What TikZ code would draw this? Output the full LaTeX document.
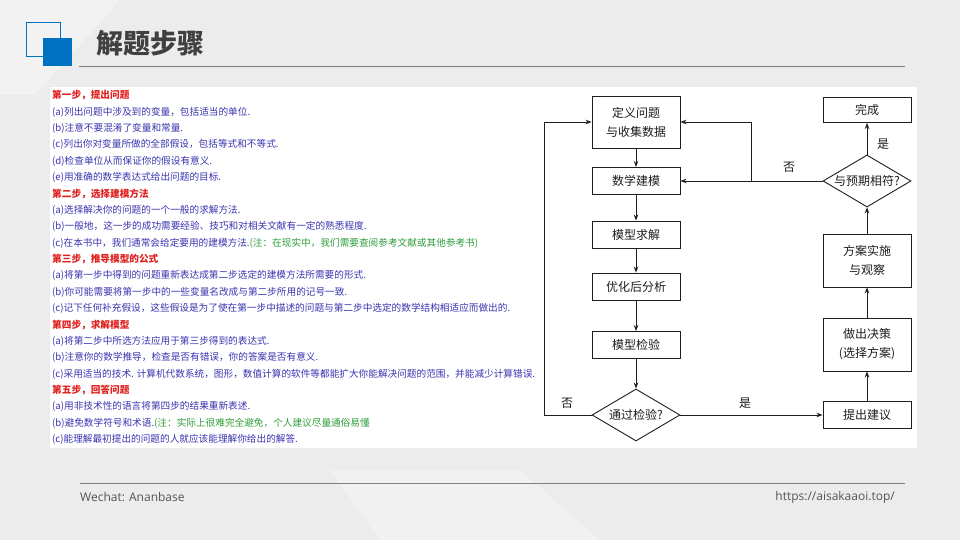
\documentclass[tikz,border=0pt]{standalone}
\usepackage{fontspec}
\setmainfont{Noto Sans CJK SC}
\newfontfamily\footfont{Open Sans}
\usetikzlibrary{arrows.meta,shapes.geometric}

\definecolor{bg}{HTML}{ECECEC}
\definecolor{accent}{HTML}{0070C0}
\definecolor{titlegray}{HTML}{404040}
\definecolor{footgray}{HTML}{555555}
\definecolor{rulegray}{HTML}{808080}
\definecolor{stepred}{HTML}{E0201E}
\definecolor{itemblue}{HTML}{3A34B0}
\definecolor{notegreen}{HTML}{2E9E3A}
\definecolor{ink}{HTML}{1E1E1E}

\tikzset{
  link/.style={draw=ink, line width=0.9pt},
  arr/.style={link, -{Stealth[length=6pt,width=4.5pt]}},
  box/.style={draw=ink, line width=0.9pt, fill=white, minimum width=88pt,
    minimum height=27pt, inner sep=0pt, align=center, text=ink,
    font=\fontsize{12}{19}\selectfont},
  tallbox/.style={box, minimum height=53pt},
  decision/.style={diamond, draw=ink, line width=0.9pt, fill=white,
    aspect=1.69, minimum width=88pt, minimum height=52pt, inner sep=0pt,
    text=ink, font=\fontsize{12}{14}\selectfont},
  flowlabel/.style={text=ink, font=\fontsize{12}{14}\selectfont, inner sep=0pt},
  stephead/.style={anchor=west, inner sep=0pt, text=stepred,
    font=\fontsize{9.65}{12}\selectfont\bfseries},
  stepitem/.style={anchor=west, inner sep=0pt, text=itemblue,
    font=\fontsize{9.65}{12}\selectfont},
}

\begin{document}
\begin{tikzpicture}[x=1pt, y=-1pt]
  \useasboundingbox (0,0) rectangle (960,540);

  % slide background with faint light facets
  \fill[bg] (0,0) rectangle (960,540);
  \fill[white, opacity=0.35] (0,0) -- (120,0) -- (35,95) -- (0,95) -- cycle;
  \fill[white, opacity=0.3] (330,470) -- (520,470) -- (600,540) -- (380,540) -- cycle;

  % header: accent squares, title and rule
  \draw[accent, line width=1.3pt] (26.5,22.5) rectangle (60.5,56.5);
  \fill[accent] (43,38) rectangle (72,66);
  \node[anchor=west, inner sep=0pt, text=titlegray,
        font=\fontsize{27}{30}\selectfont\bfseries] (title) at (96,43) {解题步骤};
  \draw[rulegray, line width=1pt] (79,66.3) -- (905,66.3);

  % content panel
  \fill[white] (50,87) rectangle (917,448);

  % step list
  \def\lx{52}
  \node[stephead] (h1) at (\lx,95.5)  {第一步，提出问题};
  \node[stepitem] (a1) at (\lx,111.9) {(a)列出问题中涉及到的变量，包括适当的单位.};
  \node[stepitem] (b1) at (\lx,128.3) {(b)注意不要混淆了变量和常量.};
  \node[stepitem] (c1) at (\lx,144.6) {(c)列出你对变量所做的全部假设，包括等式和不等式.};
  \node[stepitem] (d1) at (\lx,161.0) {(d)检查单位从而保证你的假设有意义.};
  \node[stepitem] (e1) at (\lx,177.4) {(e)用准确的数学表达式给出问题的目标.};
  \node[stephead] (h2) at (\lx,193.8) {第二步，选择建模方法};
  \node[stepitem] (a2) at (\lx,210.2) {(a)选择解决你的问题的一个一般的求解方法.};
  \node[stepitem] (b2) at (\lx,226.5) {(b)一般地，这一步的成功需要经验、技巧和对相关文献有一定的熟悉程度.};
  \node[stepitem] (c2) at (\lx,242.9) {(c)在本书中，我们通常会给定要用的建模方法.\textcolor{notegreen}{(注：在现实中，我们需要查阅参考文献或其他参考书)}};
  \node[stephead] (h3) at (\lx,259.3) {第三步，推导模型的公式};
  \node[stepitem] (a3) at (\lx,275.7) {(a)将第一步中得到的问题重新表达成第二步选定的建模方法所需要的形式.};
  \node[stepitem] (b3) at (\lx,292.1) {(b)你可能需要将第一步中的一些变量名改成与第二步所用的记号一致.};
  \node[stepitem] (c3) at (\lx,308.4) {(c)记下任何补充假设，这些假设是为了使在第一步中描述的问题与第二步中选定的数学结构相适应而做出的.};
  \node[stephead] (h4) at (\lx,324.8) {第四步，求解模型};
  \node[stepitem] (a4) at (\lx,341.2) {(a)将第二步中所选方法应用于第三步得到的表达式.};
  \node[stepitem] (b4) at (\lx,357.6) {(b)注意你的数学推导，检查是否有错误，你的答案是否有意义.};
  \node[stepitem] (c4) at (\lx,374.0) {(c)采用适当的技术. 计算机代数系统，图形，数值计算的软件等都能扩大你能解决问题的范围，并能减少计算错误.};
  \node[stephead] (h5) at (\lx,390.3) {第五步，回答问题};
  \node[stepitem] (a5) at (\lx,406.7) {(a)用非技术性的语言将第四步的结果重新表述.};
  \node[stepitem] (b5) at (\lx,423.1) {(b)避免数学符号和术语.\textcolor{notegreen}{(注：实际上很难完全避免，个人建议尽量通俗易懂}};
  \node[stepitem] (c5) at (\lx,439.5) {(c)能理解最初提出的问题的人就应该能理解你给出的解答.};

  % flowchart, left column
  \node[tallbox, minimum height=52pt] (def) at (636,122) {定义问题\\与收集数据};
  \node[box] (model) at (636,181) {数学建模};
  \node[box] (solve) at (636,234.5) {模型求解};
  \node[box] (post)  at (636,286.5) {优化后分析};
  \node[box] (check) at (636,345) {模型检验};
  \node[decision] (pass) at (636,415) {通过检验?};

  % flowchart, right column
  \node[box] (sugg)   at (867,415) {提出建议};
  \node[tallbox] (decide) at (867,344.5) {做出决策\\(选择方案)};
  \node[tallbox] (impl)   at (867,260.5) {方案实施\\与观察};
  \node[decision] (expect) at (867,181) {与预期相符?};
  \node[box, minimum height=25pt] (done) at (867,110) {完成};

  % main chain
  \draw[arr] (def) -- (model);
  \draw[arr] (model) -- (solve);
  \draw[arr] (solve) -- (post);
  \draw[arr] (post) -- (check);
  \draw[arr] (check) -- (pass);
  \draw[arr] (pass) -- (sugg);
  \draw[arr] (sugg) -- (decide);
  \draw[arr] (decide) -- (impl);
  \draw[arr] (impl) -- (expect);
  \draw[arr] (expect) -- (done);

  % feedback loops
  \coordinate (loopx) at (544,0);
  \coordinate (splitx) at (751,0);
  \draw[arr] (pass.west) -- (pass.west -| loopx) |- (def.west);
  \draw[arr] (expect.west) -- (model.east);
  \draw[arr] (expect.west -| splitx) |- (def.east);

  % branch labels
  \node[flowlabel] (noL)  at (567,403) {否};
  \node[flowlabel] (yesL) at (745,403) {是};
  \node[flowlabel] (noR)  at (789,167) {否};
  \node[flowlabel] (yesR) at (883,144) {是};

  % footer
  \draw[rulegray, line width=0.8pt] (80,483) -- (905,483);
  \node[anchor=west, inner sep=0pt, text=footgray, font=\footfont\fontsize{12}{14}\selectfont]
    (wechat) at (80,497) {Wechat: Ananbase};
  \node[anchor=east, inner sep=0pt, text=footgray, font=\footfont\fontsize{12}{14}\selectfont]
    (site) at (895,497) {https://aisakaaoi.top/};
\end{tikzpicture}
\end{document}
